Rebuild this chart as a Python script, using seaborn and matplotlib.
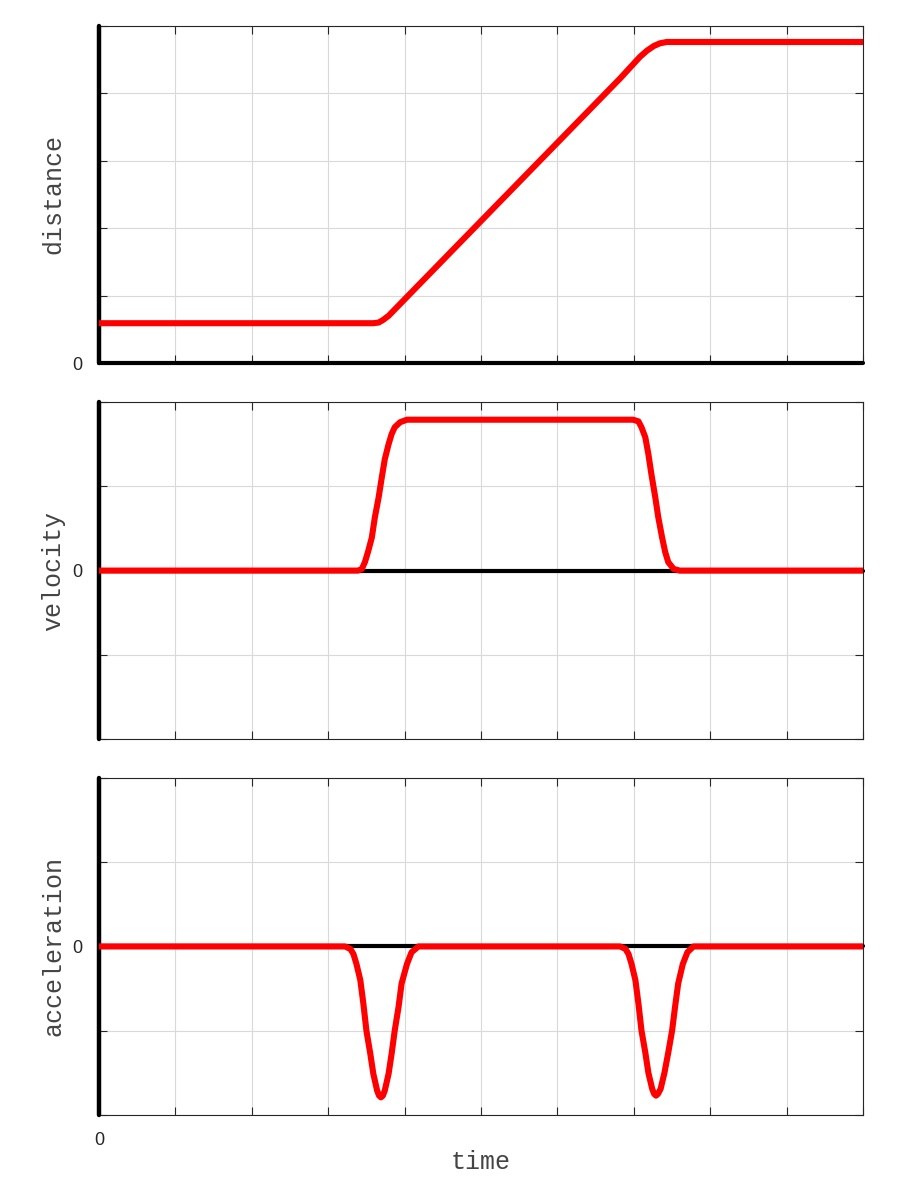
import numpy as np
import pandas as pd
import matplotlib
matplotlib.use("Agg")
import matplotlib.pyplot as plt
import seaborn as sns

# ── data ─────────────────────────────────────────────────
dist_t = [0.00, 3.59, 3.66, 3.72, 3.79, 3.85,
          6.82, 6.95, 7.08, 7.17, 7.26, 7.34, 7.43, 7.52, 10.00]
dist_y = [0.59, 0.59, 0.60, 0.64, 0.70, 0.77,
          4.22, 4.38, 4.54, 4.63, 4.70, 4.74, 4.76, 4.76, 4.76]

vel_t = [0.00, 3.39, 3.44, 3.48, 3.52, 3.57, 3.61, 3.66, 3.70, 3.74, 3.79,
         3.83, 3.87, 3.94, 4.03,
         6.99, 7.06, 7.10, 7.15, 7.19, 7.23, 7.28, 7.32, 7.37, 7.41, 7.45,
         7.52, 7.60, 10.00]
vel_y = [0.00, 0.00, 0.02, 0.10, 0.22, 0.39, 0.63, 0.87, 1.10, 1.32, 1.50,
         1.62, 1.70, 1.76, 1.79,
         1.79, 1.77, 1.70, 1.58, 1.38, 1.14, 0.87, 0.63, 0.39, 0.22, 0.10,
         0.02, 0.00, 0.00]

acc_t = [0.00, 3.22, 3.29, 3.33, 3.37, 3.42, 3.46, 3.50, 3.55, 3.59, 3.64,
         3.665, 3.69, 3.715, 3.74, 3.79, 3.83, 3.87, 3.92, 3.96, 4.03, 4.09,
         4.18,
         6.82, 6.89, 6.93, 6.97, 7.02, 7.06, 7.10, 7.15, 7.19, 7.24,
         7.265, 7.29, 7.315, 7.35, 7.40, 7.45, 7.50, 7.54, 7.58, 7.64, 7.70,
         7.78, 10.00]
acc_y = [0.00, 0.00, -0.03, -0.09, -0.21, -0.40, -0.68, -1.00, -1.27, -1.51,
         -1.71, -1.77, -1.79, -1.77, -1.71, -1.51, -1.27, -1.00, -0.72, -0.44,
         -0.21, -0.07, 0.00,
         0.00, -0.03, -0.09, -0.21, -0.40, -0.68, -1.00, -1.26, -1.50, -1.69,
         -1.75, -1.77, -1.75, -1.69, -1.50, -1.26, -1.00, -0.71, -0.44, -0.21,
         -0.07, 0.00, 0.00]

panels = [
    ("distance",     dist_t, dist_y, (0, 5)),
    ("velocity",     vel_t,  vel_y,  (-2, 2)),
    ("acceleration", acc_t,  acc_y,  (-2, 2)),
]

# ── style ────────────────────────────────────────────────
sns.set_style("white")
plt.rcParams["font.family"] = ["Liberation Sans", "DejaVu Sans"]
MONO = "Liberation Mono"
TXT = "#262626"
LBL = "#444444"

fig = plt.figure(figsize=(9, 12), dpi=100)
left, width, height = 0.110, 0.849, 0.281
bottoms = [0.6975, 0.384, 0.0708]

for i, (name, t, y, ylim) in enumerate(panels):
    ax = fig.add_axes([left, bottoms[i], width, height])
    ax.set_xlim(0, 10)
    ax.set_ylim(*ylim)
    ax.set_xticks(np.arange(0, 11))
    ax.set_yticks(np.arange(ylim[0], ylim[1] + 1))
    ax.grid(True, color="#d9d9d9", lw=0.8)
    ax.set_axisbelow(True)

    # axes drawn as thick black lines at x=0 and y=0
    ax.axhline(0, color="black", lw=3, zorder=3, clip_on=False)
    ax.axvline(0, color="black", lw=3.2, zorder=3, clip_on=False)

    df = pd.DataFrame({"t": t, "v": y})
    sns.lineplot(data=df, x="t", y="v", ax=ax, color="red", lw=4.4,
                 estimator=None, sort=False, zorder=4,
                 solid_joinstyle="round", solid_capstyle="butt")

    for s in ax.spines.values():
        s.set_visible(True)
        s.set_color("#262626")
        s.set_linewidth(0.8)

    ax.tick_params(direction="in", length=6, width=0.8, color="#262626",
                   top=True, right=True, left=True, bottom=True,
                   labelsize=13, labelcolor=TXT, pad=12)
    ax.set_yticklabels(["0" if v == 0 else "" for v in ax.get_yticks()])
    if i == 2:
        ax.set_xticklabels(["0" if v == 0 else "" for v in ax.get_xticks()])
        ax.set_xlabel("time", family=MONO, fontsize=18, color=LBL, labelpad=1)
    else:
        ax.set_xticklabels([])
        ax.set_xlabel("")
    ax.set_ylabel(name, family=MONO, fontsize=18, color=LBL, labelpad=5)

plt.savefig("out.png", dpi=100)
